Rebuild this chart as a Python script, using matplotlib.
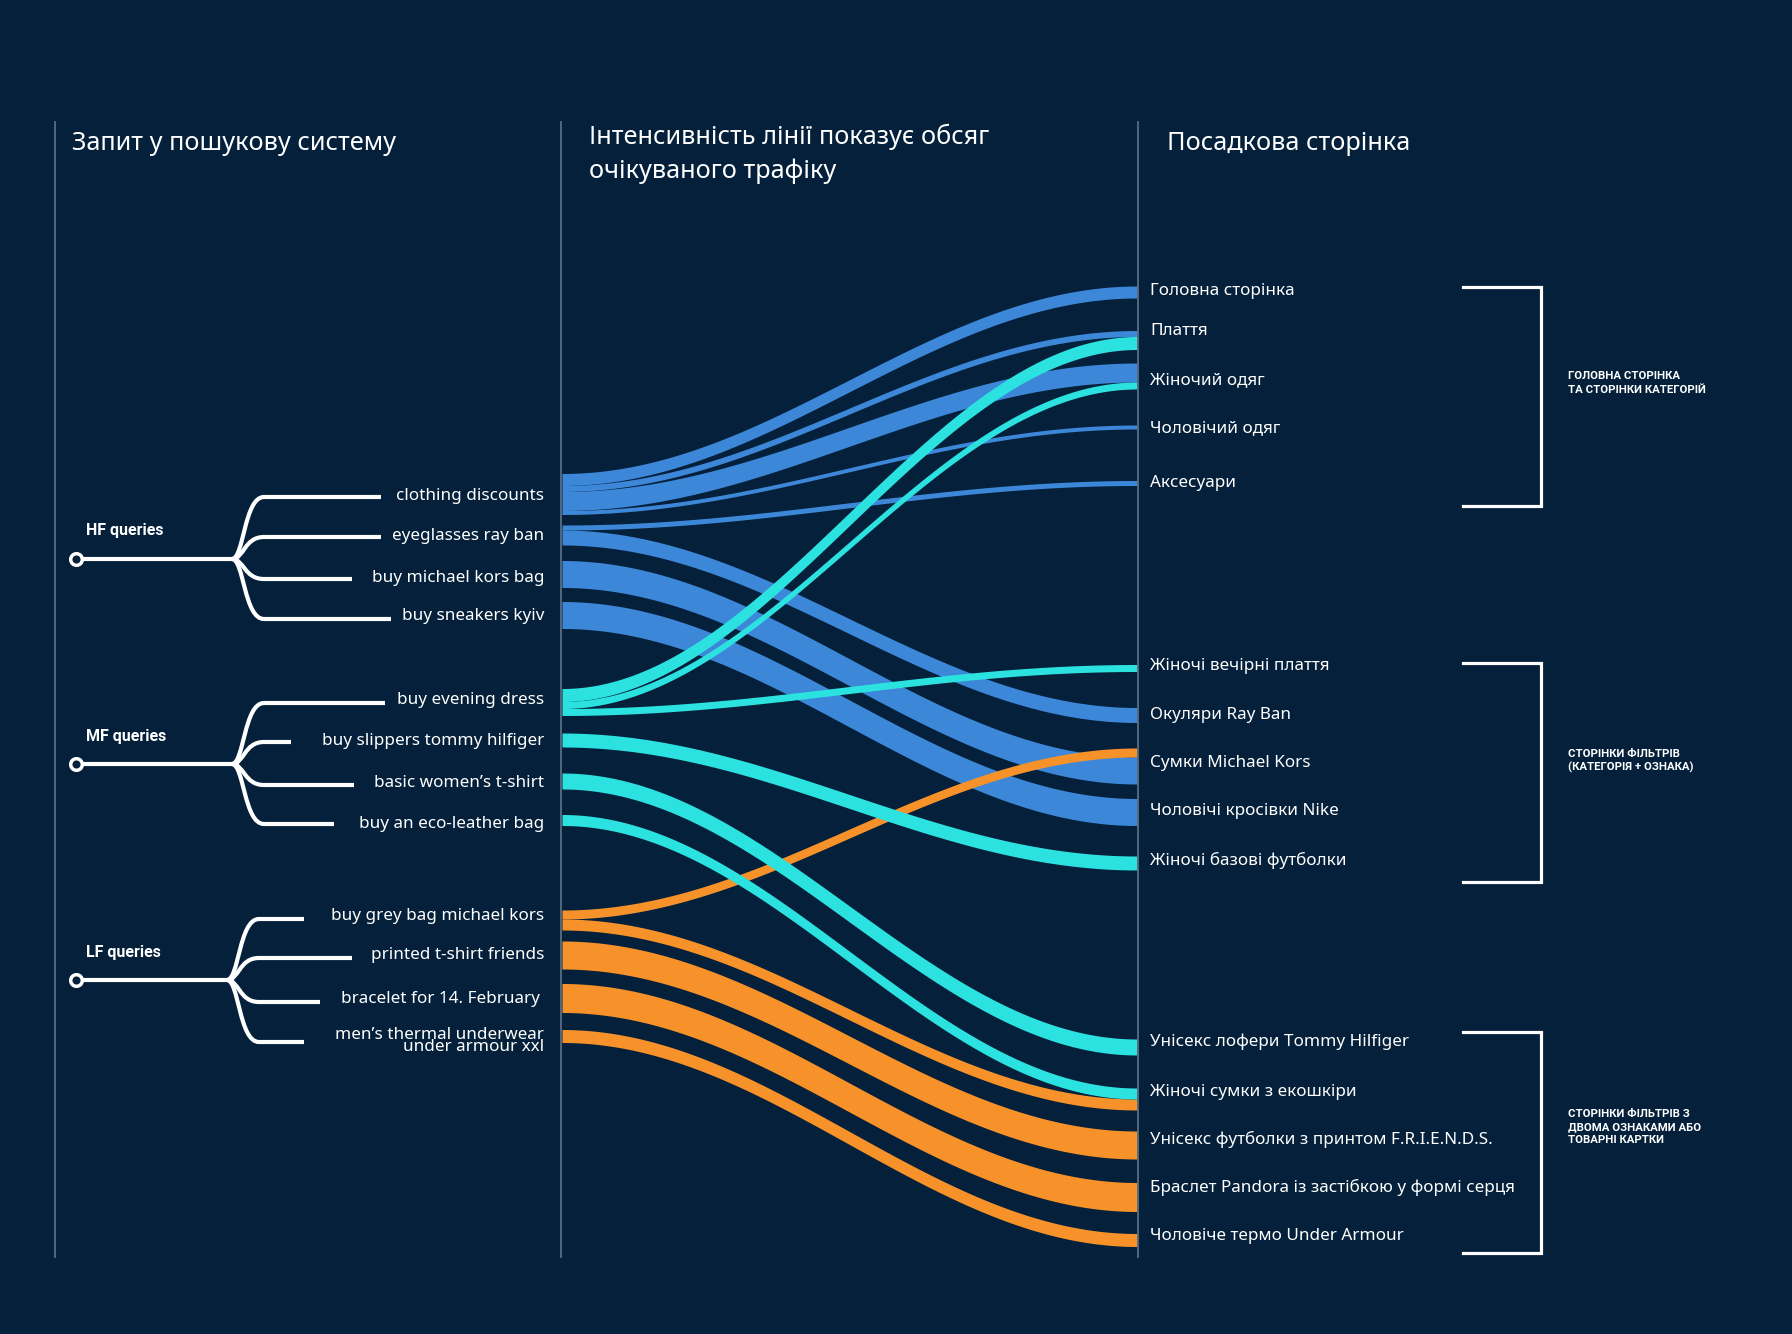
import numpy as np
import matplotlib.pyplot as plt
from matplotlib.path import Path
from matplotlib.patches import PathPatch

# ---- дані ----
queries = ["clothing discounts", "eyeglasses ray ban", "buy michael kors bag", "buy sneakers kyiv",
           "buy evening dress", "buy slippers tommy hilfiger", "basic women’s t-shirt", "buy an eco-leather bag",
           "buy grey bag michael kors", "printed t-shirt friends", "bracelet for 14. February ",
           "men’s thermal underwear\nunder armour xxl"]
query_group = [0, 0, 0, 0, 1, 1, 1, 1, 2, 2, 2, 2]
groups = ["HF queries", "MF queries", "LF queries"]

pages = ["Головна сторінка", "Плаття", "Жіночий одяг", "Чоловічий одяг", "Аксесуари",
         "Жіночі вечірні плаття", "Окуляри Ray Ban", "Сумки Michael Kors", "Чоловічі кросівки Nike",
         "Жіночі базові футболки",
         "Унісекс лофери Tommy Hilfiger", "Жіночі сумки з екошкіри", "Унісекс футболки з принтом F.R.I.E.N.D.S.",
         "Браслет Pandora із застібкою у формі серця", "Чоловіче термо Under Armour"]

bracket_labels = ["ГОЛОВНА СТОРІНКА\nТА СТОРІНКИ КАТЕГОРІЙ",
                  "СТОРІНКИ ФІЛЬТРІВ\n(КАТЕГОРІЯ + ОЗНАКА)",
                  "СТОРІНКИ ФІЛЬТРІВ З\nДВОМА ОЗНАКАМИ АБО\nТОВАРНІ КАРТКИ"]

# потоки: запит -> сторінка, обсяг трафіку
flow_src = [0, 0, 0, 0, 1, 1, 8, 2, 3, 4, 4, 4, 5, 6, 7, 8, 9, 10, 11]
flow_dst = [0, 1, 2, 3, 4, 6, 7, 7, 8, 1, 2, 5, 9, 10, 11, 11, 12, 13, 14]
flow_val = [12, 6, 19, 4, 5, 15, 9, 27, 27, 13, 7, 7, 14, 16, 11, 11, 28, 29, 13]

# ---- розмітка (пікселі) ----
W, H = 1792, 1334
bg = "#04203a"
colors = ["#3d87d8", "#f7922b", "#2ce2e0"]
group_color = {0: colors[0], 1: colors[2], 2: colors[1]}
x_left, x_right = 562, 1137
query_y = [494, 535, 574, 615, 702, 740, 781, 820, 920, 955, 998, 1036]
page_y = [292, 340, 376, 427, 483, 668, 715, 766, 812, 863, 1047, 1099, 1145, 1197, 1240]
label_y = [291, 331, 380, 428, 483, 666, 715, 763, 811, 860, 1042, 1092, 1139, 1187, 1236]
qlabel_y = [496, 536, 578, 616, 700, 741, 783, 824, 916, 955, 999, 1041]
root_y = [559, 764, 980]
branch_x = [232, 232, 227]
leaf_y = [497, 537, 579, 619, 703, 742, 785, 824, 919, 958, 1002, 1042]
leaf_end = [381, 381, 352, 391, 385, 291, 354, 334, 304, 352, 320, 304]
brackets = [(287, 506), (663, 882), (1032, 1253)]
bracket_text_y = [383, 761, 1127]

fig = plt.figure(figsize=(W / 100, H / 100), dpi=100, facecolor=bg)
ax = fig.add_axes([0, 0, 1, 1])
ax.set_facecolor(bg)
ax.set_xlim(0, W)
ax.set_ylim(H, 0)
ax.axis("off")

font = ["Noto Sans", "DejaVu Sans"]
bold_font = ["Roboto", "DejaVu Sans"]

# розділювачі
for xv in [55, 561, 1138]:
    ax.plot([xv, xv], [122, 1257], color="#5a6e83", lw=1.3, zorder=5)

# заголовки
hs = 18.2
ax.text(72, 144, "Запит у пошукову систему", color="white", fontsize=hs, family=font, va="center")
ax.text(589, 137, "Інтенсивність лінії показує обсяг", color="white", fontsize=hs, family=font, va="center")
ax.text(589, 171, "очікуваного трафіку", color="white", fontsize=hs, family=font, va="center")
ax.text(1167, 144, "Посадкова сторінка", color="white", fontsize=hs, family=font, va="center")


def bez(p0, p1, p2, p3, t):
    return ((1 - t) ** 3) * p0 + 3 * ((1 - t) ** 2) * t * p1 + 3 * (1 - t) * t ** 2 * p2 + t ** 3 * p3


# стек потоків на вузлах
src_off = {i: query_y[i] - sum(v for s, v in zip(flow_src, flow_val) if s == i) / 2 for i in range(len(queries))}
dst_off = {j: page_y[j] - sum(v for d, v in zip(flow_dst, flow_val) if d == j) / 2 for j in range(len(pages))}
bands = []
for s, d, v in zip(flow_src, flow_dst, flow_val):
    bands.append((s, d, v, src_off[s], dst_off[d]))
    src_off[s] += v
    dst_off[d] += v

t = np.linspace(0, 1, 300)
k = 0.36
dx = x_right - x_left
xs = bez(x_left, x_left + k * dx, x_right - k * dx, x_right, t)
zord = {0: 2, 2: 3, 1: 4}
for s, d, v, y0, y1 in bands:
    g = query_group[s]
    top = bez(y0, y0, y1, y1, t)
    bot = bez(y0 + v, y0 + v, y1 + v, y1 + v, t)
    ax.fill_between(xs, top, bot, color=group_color[g], lw=0, zorder=zord[g])

# дерево запитів
for g in range(3):
    ry = root_y[g]
    bx = branch_x[g]
    ax.plot([76, bx], [ry, ry], color="white", lw=3, solid_capstyle="butt", zorder=6)
    ax.scatter([76], [ry], s=70, facecolor=bg, edgecolor="white", linewidths=2.5, zorder=7)
    ax.text(86, ry - 28, groups[g], color="white", fontsize=11.5, fontweight="bold", family=bold_font,
            va="center")
    for i in range(len(queries)):
        if query_group[i] != g:
            continue
        ly = leaf_y[i]
        verts = [(bx, ry), (bx + 12, ry), (bx + 12, ly), (bx + 32, ly), (leaf_end[i], ly)]
        codes = [Path.MOVETO, Path.CURVE4, Path.CURVE4, Path.CURVE4, Path.LINETO]
        ax.add_patch(PathPatch(Path(verts, codes), fill=False, edgecolor="white", lw=3,
                               capstyle="butt", joinstyle="round", zorder=6))

for i, q in enumerate(queries):
    ax.text(544, qlabel_y[i], q, color="white", fontsize=12.3, family=font, ha="right", va="center",
            multialignment="right", linespacing=0.68)

# сторінки
for j, p in enumerate(pages):
    ax.text(1150, label_y[j], p, color="white", fontsize=12.3, family=font, va="center")

# дужки
for (y0, y1), ty, lab in zip(brackets, bracket_text_y, bracket_labels):
    ax.plot([1463, 1541, 1541, 1463], [y0, y0, y1, y1], color="white", lw=2.3, zorder=6,
            solid_joinstyle="miter")
    ax.text(1568, ty, lab, color="white", fontsize=8.2, fontweight="bold", family=bold_font,
            va="center", linespacing=1.4)

fig.savefig("out.png", dpi=100, facecolor=bg)
